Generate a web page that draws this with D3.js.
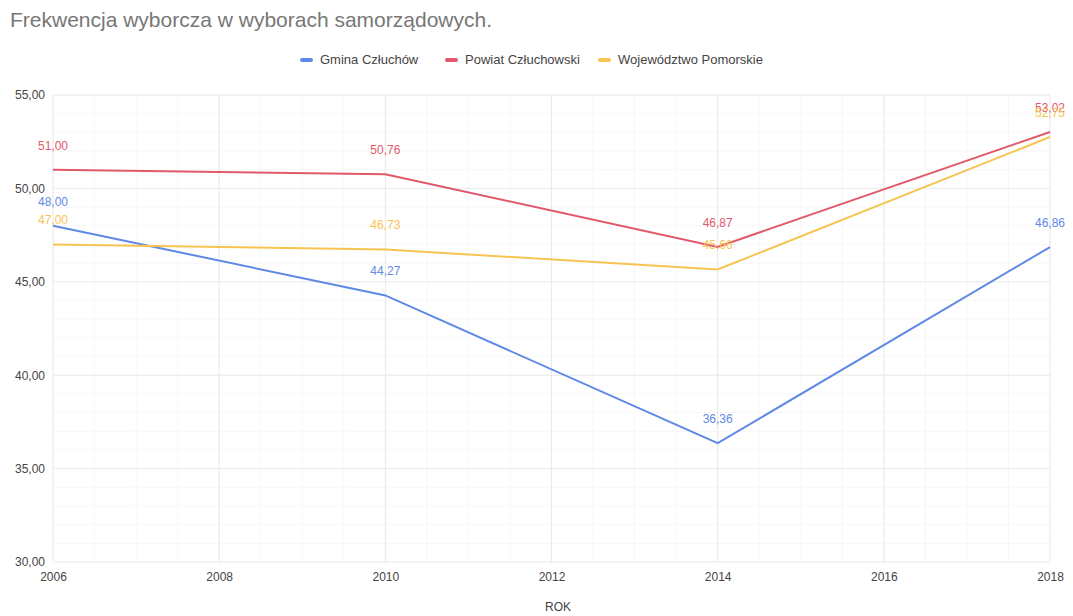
<!DOCTYPE html>
<html>
<head>
<meta charset="utf-8">
<script src="https://cdn.jsdelivr.net/npm/d3@7"></script>
<style>
  body { margin: 0; background: #fff; }
  svg { font-family: Arial, "Liberation Sans", sans-serif; }
</style>
</head>
<body>
<svg width="1073" height="616"></svg>
<script>
// dane
var years = [2006, 2010, 2014, 2018];
var gmina = [48.00, 44.27, 36.36, 46.86];
var powiat = [51.00, 50.76, 46.87, 53.02];
var woj = [47.00, 46.73, 45.66, 52.75];
var seriesNames = ["Gmina Człuchów", "Powiat Człuchowski", "Województwo Pomorskie"];
var xTicks = [2006, 2008, 2010, 2012, 2014, 2016, 2018];
var yTicks = [30, 35, 40, 45, 50, 55];

var colors = ["#5f89e6", "#e2586b", "#f7c452"];

var svg = d3.select("svg"),
    width = +svg.attr("width"),
    height = +svg.attr("height");

var x = d3.scaleLinear().domain([2006, 2018]).range([53, 1050]);
var y = d3.scaleLinear().domain([30, 55]).range([562, 95]);

var fmt = function(v) { return d3.format(".2f")(v).replace(".", ","); };

// minor grid
svg.append("g").selectAll("line")
    .data(d3.range(30, 55.01, 1))
    .enter().append("line")
    .attr("x1", x(2006)).attr("x2", x(2018))
    .attr("y1", function(d) { return y(d); })
    .attr("y2", function(d) { return y(d); })
    .attr("stroke", "#f7f7f7");

svg.append("g").selectAll("line")
    .data(d3.range(2006, 2018.01, 0.5))
    .enter().append("line")
    .attr("y1", y(30)).attr("y2", y(55))
    .attr("x1", function(d) { return x(d); })
    .attr("x2", function(d) { return x(d); })
    .attr("stroke", "#f7f7f7");

// major grid
svg.append("g").selectAll("line")
    .data(yTicks)
    .enter().append("line")
    .attr("x1", x(2006)).attr("x2", x(2018))
    .attr("y1", function(d) { return y(d); })
    .attr("y2", function(d) { return y(d); })
    .attr("stroke", "#eaeaea");

svg.append("g").selectAll("line")
    .data(xTicks)
    .enter().append("line")
    .attr("y1", y(30)).attr("y2", y(55))
    .attr("x1", function(d) { return x(d); })
    .attr("x2", function(d) { return x(d); })
    .attr("stroke", "#eaeaea");

// y axis labels
var yAxis = d3.axisLeft(y).tickValues(yTicks).tickSize(0).tickPadding(8).tickFormat(fmt);
var gy = svg.append("g").attr("transform", "translate(" + x(2006) + ",0)").call(yAxis);
gy.select(".domain").remove();
gy.selectAll("text").attr("fill", "#444").style("font-size", "12px");

// x axis labels
var xAxis = d3.axisBottom(x).tickValues(xTicks).tickSize(0).tickPadding(10).tickFormat(d3.format("d"));
var gx = svg.append("g").attr("transform", "translate(0," + y(30) + ")").call(xAxis);
gx.select(".domain").remove();
gx.selectAll("text").attr("fill", "#444").style("font-size", "12px");

svg.append("text")
    .attr("x", 558).attr("y", 611)
    .attr("text-anchor", "middle")
    .attr("fill", "#444")
    .style("font-size", "12px")
    .text("ROK");

// lines
var all = [gmina, powiat, woj];
var line = d3.line()
    .x(function(d, i) { return x(years[i]); })
    .y(function(d) { return y(d); });

all.forEach(function(vals, s) {
  svg.append("path")
      .datum(vals)
      .attr("fill", "none")
      .attr("stroke", colors[s])
      .attr("stroke-width", 2)
      .attr("d", line);
});

// data labels
all.forEach(function(vals, s) {
  svg.append("g").selectAll("text")
      .data(vals)
      .enter().append("text")
      .attr("x", function(d, i) { return x(years[i]); })
      .attr("y", function(d) { return y(d) - 20; })
      .attr("text-anchor", "middle")
      .attr("fill", colors[s])
      .style("font-size", "12px")
      .text(function(d) { return fmt(d); });
});

// title
svg.append("text")
    .attr("x", 10).attr("y", 27)
    .attr("fill", "#777")
    .style("font-size", "21px")
    .text("Frekwencja wyborcza w wyborach samorządowych.");

// legend
var legendX = [300, 445, 598];
var legend = svg.append("g").selectAll("g")
    .data(seriesNames)
    .enter().append("g")
    .attr("transform", function(d, i) { return "translate(" + legendX[i] + ",60)"; });

legend.append("rect")
    .attr("x", 0).attr("y", -2)
    .attr("width", 13).attr("height", 4)
    .attr("rx", 2)
    .attr("fill", function(d, i) { return colors[i]; });

legend.append("text")
    .attr("x", 20).attr("y", 4)
    .attr("fill", "#444")
    .style("font-size", "13px")
    .text(function(d) { return d; });
</script>
</body>
</html>
